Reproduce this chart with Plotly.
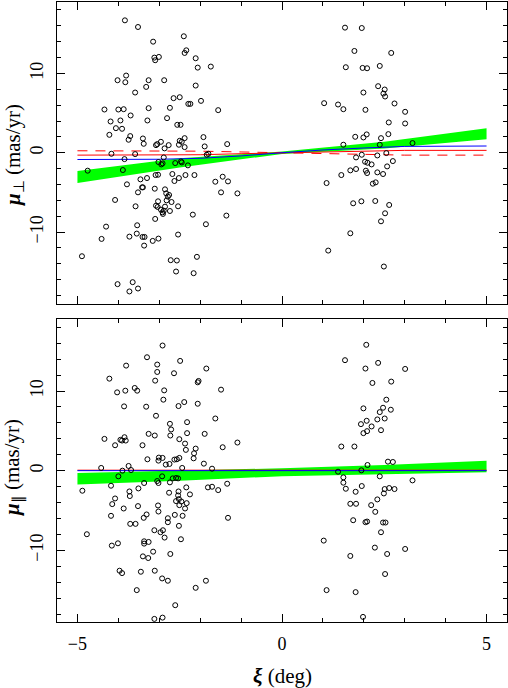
import plotly.graph_objects as go

# ---------------- data ----------------
top_xi = [-3.84,-3.52,-2.40,-3.15,-2.34,-2.38,-3.12,-3.10,-3.01,-2.11,-2.06,-1.74,-3.81,-4.02,-3.83,-3.26,-2.88,-2.11,-3.32,-3.59,
          -2.65,-2.50,-1.98,-2.29,-2.24,-4.34,-3.26,-4.00,-3.87,-2.74,-1.56,-3.70,-2.81,-4.19,-3.95,-3.29,-2.56,-2.48,-4.06,-3.91,
          -4.22,-3.71,-3.75,-3.40,-3.38,-1.92,-2.38,-2.50,-2.45,-2.96,-3.05,-3.08,-2.77,-2.52,-1.34,-1.89,-2.38,-2.87,-3.59,-4.17,
          -1.80,-1.84,-3.85,-2.89,-3.02,-2.92,-2.95,-2.47,-2.45,-2.61,-2.30,-4.75,-3.89,-2.68,-3.09,-3.03,-2.14,-2.36,-2.52,-2.63,
          -3.30,-3.46,-3.79,-3.42,-3.40,-1.63,-1.45,-1.32,-3.11,-2.86,-3.52,-1.49,-1.09,-2.83,-2.76,-2.79,-2.82,-4.08,-3.03,-2.70,
          -3.58,-3.08,-3.04,-2.54,-2.86,-2.96,-2.89,-2.74,-2.92,-2.91,-2.18,-1.36,-3.10,-3.54,-1.86,-4.30,-4.41,-3.73,-3.55,-3.41,
          -3.36,-3.37,-3.16,-3.02,-2.54,-4.89,-2.72,-2.57,-2.08,-2.59,-2.16,-4.02,-3.65,-3.73,-3.52,
          1.54,1.95,1.77,2.67,1.56,1.97,2.08,2.39,2.35,2.51,2.48,2.52,1.99,1.03,1.37,1.50,2.04,2.75,3.01,2.61,
          3.01,2.07,1.79,1.99,2.42,2.60,1.50,2.39,3.19,1.95,1.81,2.33,2.55,2.03,2.09,2.19,2.71,2.57,1.67,1.81,
          2.05,2.08,2.33,2.47,1.45,1.09,2.22,2.29,1.94,2.28,1.74,2.62,2.52,2.42,1.67,1.13,2.49]
top_mu = [16.69,15.85,14.68,14.00,12.91,12.58,11.99,11.66,12.08,11.91,10.73,10.86,9.73,9.14,8.89,9.14,9.14,8.47,8.30,7.59,
          6.88,7.00,6.54,6.16,6.16,5.45,5.62,5.45,5.49,5.66,5.37,4.70,4.36,3.94,4.07,4.07,3.52,3.52,3.10,3.02,
          2.26,2.10,1.64,1.80,1.13,1.97,1.84,1.51,1.38,1.38,1.09,0.96,0.96,1.01,1.09,0.80,0.71,0.55,-0.17,-0.13,
          -0.13,-0.25,-0.80,-0.59,-1.17,-1.34,-1.47,-1.09,-1.22,-1.30,-1.59,-2.26,-2.18,-2.68,-2.81,-2.77,-2.81,-2.81,-3.19,-3.56,
          -3.19,-3.35,-3.98,-4.36,-4.36,-3.65,-3.02,-3.61,-4.53,-4.61,-4.99,-4.99,-5.12,-5.12,-5.32,-5.53,-6.00,-5.95,-6.12,-6.21,
          -6.75,-6.67,-6.83,-6.75,-6.79,-7.17,-7.30,-7.34,-7.51,-7.71,-7.80,-7.92,-8.34,-9.14,-9.01,-9.31,-10.86,-10.57,-10.19,-10.61,
          -10.61,-11.70,-11.11,-10.82,-10.31,-13.04,-13.54,-13.58,-13.12,-14.97,-15.18,-16.56,-16.31,-17.48,-17.11,
          15.77,15.72,12.83,12.58,10.78,10.69,10.65,10.94,8.39,7.97,7.46,7.09,7.59,6.25,6.08,5.49,5.41,6.21,5.16,3.82,
          3.69,2.31,2.01,1.93,1.84,2.35,1.01,1.01,1.22,-0.25,-0.59,-0.34,-0.04,-1.13,-1.26,-1.47,-1.05,-1.72,-2.22,-2.05,
          -2.26,-2.56,-2.47,-2.68,-2.81,-3.82,-3.90,-3.73,-6.12,-6.08,-6.37,-6.58,-7.63,-8.64,-10.15,-12.33,-14.34]

bot_xi = [-2.92,-3.30,-3.05,-2.49,-3.81,-1.85,-3.05,-2.64,-4.22,-3.10,-2.04,-2.06,-3.60,-3.54,-1.49,-2.88,-4.03,-3.83,-2.90,-2.06,
          -3.32,-3.86,-2.53,-2.39,-3.08,-1.63,-2.74,-2.32,-2.71,-2.73,-3.26,-3.11,-1.89,-4.34,-3.95,-3.85,-3.82,-3.91,-2.51,-4.08,
          -3.41,-2.32,-2.37,-1.09,-1.45,-2.35,-2.11,-2.15,-2.16,-3.29,-3.01,-2.92,-3.02,-2.63,-2.57,-2.51,-2.75,-2.84,-1.91,-4.42,
          -3.75,-2.44,-1.71,-4.00,-3.90,-3.69,-4.88,-4.18,-2.93,-3.05,-3.02,-2.67,-2.59,-2.54,-3.37,-2.74,-1.81,-1.71,-1.56,-1.34,
          -2.76,-2.34,-3.51,-3.73,-3.72,-2.25,-2.53,-2.54,-2.52,-2.46,-2.59,-2.33,-4.08,-4.15,-3.87,-2.51,-3.52,-3.03,-3.02,-2.37,
          -2.43,-3.31,-2.62,-4.18,-2.79,-2.79,-3.38,-1.32,-3.71,-3.58,-4.77,-2.52,-3.12,-2.97,-2.91,-2.87,-4.01,-4.16,-3.37,-3.37,
          -3.26,-2.47,-3.15,-2.73,-3.40,-3.27,-3.97,-3.91,-3.45,-3.11,-2.93,-2.79,-2.11,-1.86,-3.55,-2.61,-3.12,-2.92,
          2.06,1.54,2.35,2.04,3.01,2.21,2.67,2.55,1.99,2.47,2.66,2.39,2.33,2.51,2.07,1.93,2.19,2.08,1.99,2.42,
          1.45,1.77,2.59,2.71,2.09,1.94,1.37,2.39,3.19,1.50,1.50,1.56,1.95,1.80,2.62,2.75,2.51,2.49,2.33,1.67,
          1.81,2.18,2.28,1.74,2.04,2.08,2.47,2.53,2.42,1.02,2.27,3.01,1.67,2.57,2.52,1.09,1.80,1.98]
bot_mu = [15.71,14.24,13.32,13.78,13.19,12.82,12.39,12.23,11.55,11.30,11.26,11.09,10.38,10.04,10.17,10.08,9.83,10.04,8.91,8.40,
          8.03,8.07,8.11,8.61,6.89,6.55,5.88,6.09,5.17,4.41,4.62,4.41,4.62,3.99,3.87,4.20,3.78,3.78,3.95,3.19,
          3.19,4.71,3.40,3.53,2.94,2.61,2.77,2.18,1.55,1.43,1.64,1.60,1.26,1.39,1.43,1.60,0.84,0.76,0.88,0.34,
          0.59,0.34,0.25,-0.71,0.00,0.08,-2.52,-1.89,-0.71,-1.30,-1.55,-0.97,-0.92,-0.97,-1.55,-1.47,-2.10,-2.02,-2.44,-1.64,
          -2.77,-2.10,-2.23,-2.61,-3.19,-2.98,-2.61,-3.11,-3.57,-3.87,-3.82,-4.08,-3.49,-4.20,-4.75,-4.33,-4.45,-4.37,-5.13,-4.75,
          -5.67,-5.50,-5.55,-5.67,-5.97,-6.47,-5.92,-5.92,-6.68,-6.68,-7.98,-6.93,-7.48,-7.73,-7.48,-8.40,-9.12,-9.41,-8.87,-9.16,
          -8.95,-8.61,-10.17,-10.46,-10.76,-10.97,-12.56,-12.86,-12.69,-12.56,-13.53,-13.82,-14.71,-13.82,-15.00,-16.89,-18.61,-18.45,
          15.80,13.87,13.53,12.82,12.77,11.01,11.18,8.91,7.82,7.90,7.65,7.35,6.43,6.55,6.26,5.84,5.55,4.96,4.71,5.08,
          3.03,3.03,1.13,1.09,0.71,0.04,-0.13,-0.71,-1.22,-0.84,-1.51,-2.27,-1.93,-2.65,-2.18,-2.31,-2.31,-2.86,-3.61,-4.16,
          -4.16,-4.33,-5.17,-6.22,-6.47,-6.39,-6.51,-6.51,-7.73,-8.78,-9.66,-9.83,-10.71,-10.46,-12.98,-15.00,-15.25,-18.36]

# fitted band (green) and model curves
band_xi = [-5, -2.5, 0, 2.5, 5]
top_band_hi = [-2.3, -0.7, 0.15, 1.4, 3.1]
top_band_lo = [-3.8, -1.85, -0.15, 0.55, 1.7]
bot_band_hi = [-0.3, 0.0, 0.3, 0.72, 1.26]
bot_band_lo = [-1.75, -1.26, -0.7, -0.42, -0.2]

model_xi = [-5, -3, -2, -1, 0, 1, 2, 3, 5]
top_blue = [-0.85, -0.82, -0.7, -0.4, 0.0, 0.35, 0.6, 0.8, 0.85]
top_red = [-0.3, -0.3, -0.25, -0.12, 0.0, 0.12, 0.25, 0.3, 0.3]
top_red_dash = [0.25, 0.25, 0.2, 0.1, 0.0, -0.12, -0.25, -0.3, -0.3]

line_xi = [-5, 5]
bot_blue = [0.0, 0.0]
bot_red = [0.06, 0.06]

x_ticks = [-5, 0, 5]
y_ticks = [-10, 0, 10]

# ---------------- figure ----------------
FONT = "Liberation Serif"
fig = go.Figure()

def add_panel(xa, ya, hi, lo, xs, ys, lines):
    fig.add_trace(go.Scatter(x=band_xi + band_xi[::-1], y=hi + lo[::-1], fill="toself",
                             fillcolor="#00ff00", line=dict(width=0), mode="lines",
                             xaxis=xa, yaxis=ya, hoverinfo="skip"))
    for lx, ly, col, dash in lines:
        fig.add_trace(go.Scatter(x=lx, y=ly, mode="lines",
                                 line=dict(color=col, width=1, dash=dash),
                                 xaxis=xa, yaxis=ya))
    fig.add_trace(go.Scatter(x=xs, y=ys, mode="markers",
                             marker=dict(symbol="circle-open", size=5, color="black",
                                         line=dict(width=1, color="black")),
                             xaxis=xa, yaxis=ya))

add_panel("x", "y", top_band_hi, top_band_lo, top_xi, top_mu,
          [(model_xi, top_red_dash, "#ff0000", "10px,8px"),
           (model_xi, top_red, "#ff0000", "solid"),
           (model_xi, top_blue, "#0000ff", "solid")])
add_panel("x2", "y2", bot_band_hi, bot_band_lo, bot_xi, bot_mu,
          [(line_xi, bot_red, "#ff0000", "solid"),
           (line_xi, bot_blue, "#0000ff", "solid")])

axis_common = dict(showgrid=False, zeroline=False, showline=True, linecolor="black",
                   linewidth=1, mirror="allticks", ticks="inside", tickcolor="black",
                   ticklen=8, tickwidth=1,
                   tickfont=dict(family=FONT, size=18, color="black"))

xcommon = dict(axis_common, range=[-5.5, 5.5], tickvals=x_ticks,
               minor=dict(dtick=1, ticks="inside", ticklen=4, tickcolor="black", showgrid=False))
ycommon = dict(axis_common, range=[-19, 19], tickvals=y_ticks, tickangle=-90,
               ticklabelstandoff=6,
               minor=dict(dtick=2, ticks="inside", ticklen=4, tickcolor="black", showgrid=False))

fig.update_layout(
    width=508, height=688,
    margin=dict(l=57, r=1, t=2, b=66),
    paper_bgcolor="white", plot_bgcolor="white",
    showlegend=False,
    xaxis=dict(xcommon, anchor="y", showticklabels=False),
    yaxis=dict(ycommon, domain=[0.5137, 1.0], anchor="x"),
    xaxis2=dict(xcommon, anchor="y2", matches="x", ticklabelstandoff=5),
    yaxis2=dict(ycommon, domain=[0.0, 0.4882], anchor="x2"),
    annotations=[
        dict(text="<b><i>μ</i></b><sub>⊥</sub> (mas/yr)", xref="paper", yref="paper",
             x=-0.0955, y=0.7532, textangle=-90, showarrow=False,
             xanchor="center", yanchor="middle", font=dict(family=FONT, size=21, color="black")),
        dict(text="<b><i>μ</i></b><sub>∥</sub> (mas/yr)", xref="paper", yref="paper",
             x=-0.0955, y=0.2484, textangle=-90, showarrow=False,
             xanchor="center", yanchor="middle", font=dict(family=FONT, size=21, color="black")),
        dict(text="<b><i>ξ</i></b> (deg)", xref="paper", yref="paper",
             x=0.5, y=-0.087, showarrow=False, xanchor="center", yanchor="middle",
             font=dict(family=FONT, size=21, color="black")),
    ],
)

fig.write_html("out.html", config={"displayModeBar": False},
               post_script="document.body.style.margin='0px';document.body.style.overflow='hidden';")
